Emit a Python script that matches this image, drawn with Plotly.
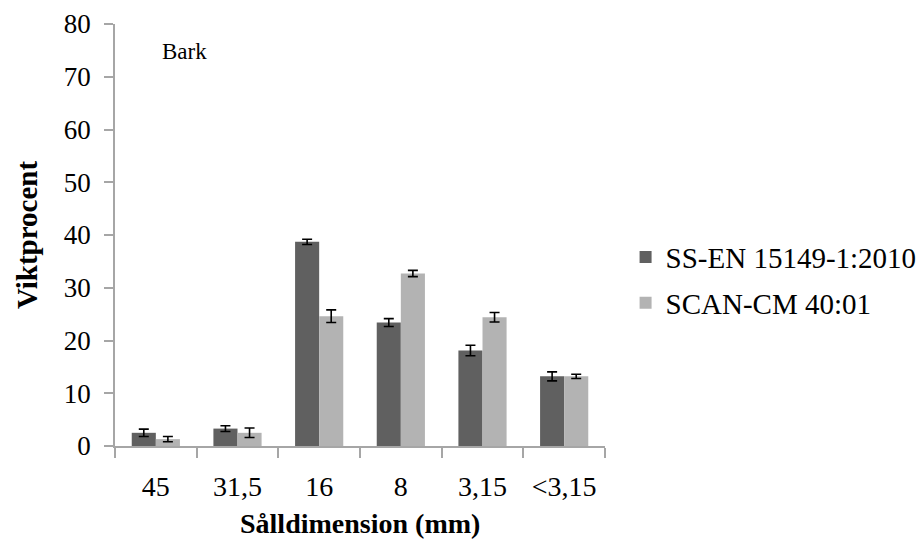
import plotly.graph_objects as go

categories = ["45", "31,5", "16", "8", "3,15", "<3,15"]
ss_en = [2.5, 3.3, 38.7, 23.4, 18.1, 13.2]
ss_en_err = [0.7, 0.55, 0.5, 0.75, 1.0, 0.85]
scan_cm = [1.3, 2.5, 24.6, 32.7, 24.4, 13.2]
scan_cm_err = [0.5, 0.9, 1.2, 0.6, 0.9, 0.4]
y_ticks = [0, 10, 20, 30, 40, 50, 60, 70, 80]

font_family = "Liberation Serif, Times New Roman, serif"
axis_gray = "#a6a6a6"

fig = go.Figure()
fig.add_trace(go.Bar(
    x=categories, y=ss_en, name="SS-EN 15149-1:2010", legendgroup="a",
    marker=dict(color="#606060", line=dict(width=0)),
    error_y=dict(type="data", array=ss_en_err, color="black", thickness=1.6, width=5),
))
fig.add_trace(go.Bar(
    x=categories, y=scan_cm, name="SCAN-CM 40:01", legendgroup="b",
    marker=dict(color="#b3b3b3", line=dict(width=0)),
    error_y=dict(type="data", array=scan_cm_err, color="black", thickness=1.6, width=5),
))

fig.update_layout(
    width=921, height=542,
    margin=dict(l=115, r=316, t=24, b=96, autoexpand=False),
    paper_bgcolor="white", plot_bgcolor="white",
    barmode="group", bargap=0.41, bargroupgap=0,
    font=dict(family=font_family, size=28, color="black"),
    showlegend=True,
    legend=dict(x=1.042, y=0.393, xanchor="left", yanchor="middle",
                font=dict(size=29), tracegroupgap=5, itemwidth=30),
    annotations=[
        dict(text="Bark", x=(160 - 115) / 490, y=(446 - 51) / 422,
             xref="paper", yref="paper", xanchor="left", yanchor="middle",
             showarrow=False, font=dict(size=23)),
        # x-axis title placed as a free annotation below the tick labels
        dict(text="<b>Sålldimension (mm)</b>", x=0.5, y=(446 - 523) / 422,
             xref="paper", yref="paper", xanchor="center", yanchor="middle",
             showarrow=False, font=dict(size=28)),
    ],
)

fig.update_xaxes(
    type="category", range=[-0.5, 5.5], automargin=False,
    showline=True, linecolor=axis_gray, linewidth=1.5,
    ticks="outside", tickson="boundaries", ticklen=10, tickcolor=axis_gray, tickwidth=1.5,
    showgrid=False, zeroline=False,
    tickfont=dict(size=28), ticklabelstandoff=15,
)
fig.update_yaxes(
    range=[0, 80], tickvals=y_ticks, automargin=False,
    showline=True, linecolor=axis_gray, linewidth=1.5,
    ticks="outside", ticklen=9, tickcolor=axis_gray, tickwidth=1.5,
    showgrid=False, zeroline=False,
    tickfont=dict(size=27), ticklabelstandoff=8,
    title=dict(text="<b>Viktprocent</b>", font=dict(size=29), standoff=18),
)

fig.write_html("out.html")
